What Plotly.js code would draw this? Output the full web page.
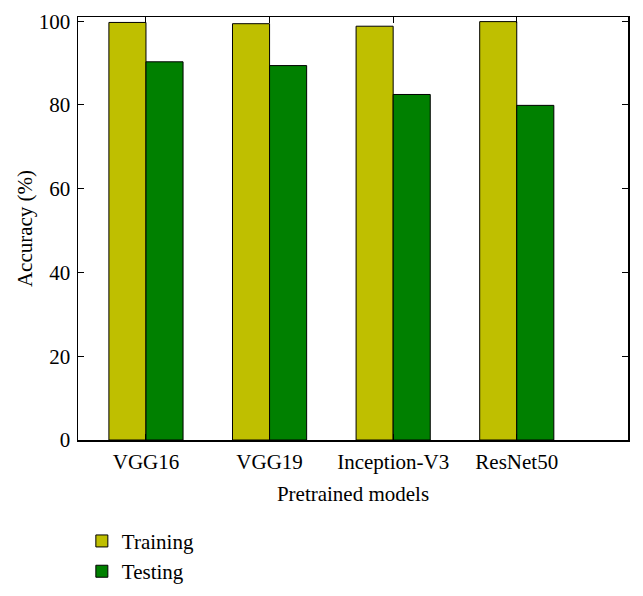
<!DOCTYPE html>
<html>
<head>
<meta charset="utf-8">
<script src="https://cdn.plot.ly/plotly-3.0.1.min.js"></script>
<style>html,body{margin:0;padding:0;background:#fff;}#chart{width:643px;height:596px;}</style>
</head>
<body>
<div id="chart"></div>
<script>
const categories = ["VGG16", "VGG19", "Inception-V3", "ResNet50"];
const trainingAcc = [99.7, 99.4, 98.8, 99.9];
const testingAcc = [90.3, 89.4, 82.5, 79.9];
const yTicks = [0, 20, 40, 60, 80, 100];

const font = {family: "Liberation Serif, Times New Roman, serif", color: "#000"};
const FS = 21;

const traces = [
  {type: "bar", name: "Training", x: categories, y: trainingAcc,
   marker: {color: "#bfbf00", line: {color: "#000", width: 1}}},
  {type: "bar", name: "Testing", x: categories, y: testingAcc,
   marker: {color: "#008000", line: {color: "#000", width: 1}}}
];

const layout = {
  width: 643, height: 596,
  margin: {l: 78, r: 15, t: 17, b: 156, autoexpand: false},
  paper_bgcolor: "#fff", plot_bgcolor: "#fff",
  font: Object.assign({size: FS}, font),
  barmode: "group", bargap: 0.4, bargroupgap: 0,
  showlegend: true,
  legend: {orientation: "v", x: 0.007, y: -0.191, xanchor: "left", yanchor: "top",
           font: Object.assign({size: FS}, font), tracegroupgap: 0, itemwidth: 30},
  xaxis: {
    type: "category", range: [-0.55, 3.9],
    showline: true, linecolor: "#000", linewidth: 1.5, mirror: "ticks",
    ticks: "inside", ticklen: 6, tickcolor: "#000",
    showgrid: false, zeroline: false, ticklabelstandoff: 2,
    tickfont: Object.assign({size: FS}, font),
    title: {text: "Pretrained models", font: Object.assign({size: FS}, font), standoff: 13}
  },
  yaxis: {
    range: [0, 101], tickvals: yTicks,
    showline: true, linecolor: "#000", linewidth: 1.5, mirror: "ticks",
    ticks: "inside", ticklen: 6, tickcolor: "#000",
    showgrid: false, zeroline: false, ticklabelstandoff: 2,
    tickfont: Object.assign({size: FS}, font),
    title: {text: "Accuracy (%)", font: Object.assign({size: FS}, font), standoff: 0}
  }
};

Plotly.newPlot("chart", traces, layout, {displayModeBar: false, staticPlot: true});
</script>
</body>
</html>
